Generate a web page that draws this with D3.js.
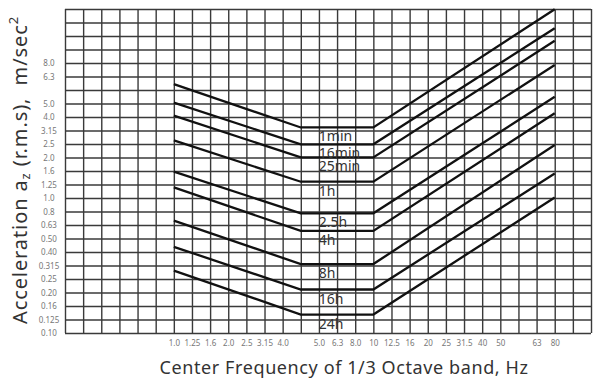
<!DOCTYPE html>
<html>
<head>
<meta charset="utf-8">
<script src="https://cdn.jsdelivr.net/npm/d3@7"></script>
<style>
  html, body { margin: 0; padding: 0; background: #fff; }
  svg { display: block; }
  .grid line { stroke: #3a3a3a; stroke-width: 1.4; }
  .tick text { fill: #777; font-family: "Noto Sans", sans-serif; font-size: 8px; }
  .title { white-space: pre; }
</style>
</head>
<body>
<svg id="chart" width="600" height="381"></svg>
<script>
// 1/3-octave band tick labels, one per vertical grid line (blank = unlabeled line)
const xTickLabels = ["", "", "", "", "", "", "1.0", "1.25", "1.6", "2.0", "2.5", "3.15", "4.0", "",
  "5.0", "6.3", "8.0", "10", "12.5", "16", "20", "25", "31.5", "40", "50", "", "63", "80", "", ""];
// acceleration tick labels, one per horizontal grid line from the bottom up
const yTickLabels = ["0.10", "0.125", "0.16", "0.20", "0.25", "0.315", "0.40", "0.50", "0.63", "0.8",
  "1.0", "1.25", "1.6", "2.0", "2.5", "3.15", "4.0", "5.0", "", "6.3", "8.0", "", "", "", ""];

// exposure durations and their boundary levels (m/s², r.m.s.)
const durations = ["1min", "16min", "25min", "1h", "2.5h", "4h", "8h", "16h", "24h"];
const startValues = [6.98, 5.08, 4.08, 2.67, 1.57, 1.20, 0.68, 0.435, 0.29];
const plateauValues = [3.33, 2.50, 2.00, 1.32, 0.77, 0.57, 0.324, 0.21, 0.137];
const endValues = [25.0, 18.1, 14.6, 9.67, 5.62, 4.24, 2.47, 1.52, 1.01];
// band index of each corner: start, plateau begins, plateau ends, end
const bendBands = [6, 13, 17, 27];

const svg = d3.select("#chart");
const plotLeft = 65, plotRight = 591, plotTop = 9, plotBottom = 333;

const x = d3.scaleLinear().domain([0, xTickLabels.length - 1]).range([plotLeft, plotRight]);
const rows = yTickLabels.length - 1;
const y = d3.scaleLog().domain([0.1, 0.1 * Math.pow(10, rows / 10)]).range([plotBottom, plotTop]);
const rowValues = d3.range(yTickLabels.length).map(k => 0.1 * Math.pow(10, k / 10));

// horizontal grid + y tick labels
const gy = svg.append("g").attr("class", "grid")
  .attr("transform", `translate(${plotLeft},0)`)
  .call(d3.axisLeft(y).tickValues(rowValues).tickSize(-(plotRight - plotLeft))
    .tickFormat((d, i) => yTickLabels[i]));
gy.select(".domain").remove();
gy.selectAll(".tick text").attr("x", -16).attr("text-anchor", "middle");

// vertical grid + x tick labels
const gx = svg.append("g").attr("class", "grid")
  .attr("transform", `translate(0,${plotBottom})`)
  .call(d3.axisBottom(x).tickValues(d3.range(xTickLabels.length)).tickSize(-(plotBottom - plotTop))
    .tickFormat(i => xTickLabels[i]));
gx.select(".domain").remove();
gx.selectAll(".tick text").attr("y", 13).attr("dy", null);

// boundary curves
const series = durations.map((name, i) => ({
  name,
  points: [
    [bendBands[0], startValues[i]],
    [bendBands[1], plateauValues[i]],
    [bendBands[2], plateauValues[i]],
    [bendBands[3], endValues[i]]
  ]
}));

const line = d3.line().x(d => x(d[0])).y(d => y(d[1]));

svg.append("g").selectAll("path").data(series).join("path")
  .attr("d", d => line(d.points))
  .attr("fill", "none")
  .attr("stroke", "#111")
  .attr("stroke-width", 2.3)
  .attr("stroke-linejoin", "miter");

svg.append("g").selectAll("text").data(series).join("text")
  .attr("x", x(bendBands[1]) + 18)
  .attr("y", d => y(d.points[1][1]) + 14)
  .attr("fill", "#333")
  .attr("font-family", "'Noto Sans', sans-serif")
  .attr("font-size", 14)
  .text(d => d.name);

// axis titles
svg.append("text")
  .attr("class", "title")
  .attr("x", 344).attr("y", 374)
  .attr("text-anchor", "middle")
  .attr("fill", "#333")
  .attr("font-family", "'Noto Sans', sans-serif")
  .attr("font-size", 18)
  .attr("letter-spacing", 0.6)
  .text("Center Frequency of 1/3 Octave band, Hz");

const yt = svg.append("text")
  .attr("class", "title")
  .attr("transform", "translate(27,170) rotate(-90)")
  .attr("text-anchor", "middle")
  .attr("fill", "#333")
  .attr("font-family", "'Noto Sans', sans-serif")
  .attr("font-size", 20)
  .attr("letter-spacing", 0.9);
yt.append("tspan").text("Acceleration a");
yt.append("tspan").attr("font-size", 13).attr("dy", 3).text("z");
yt.append("tspan").attr("dy", -3).text(" (r.m.s),  m/sec");
yt.append("tspan").attr("font-size", 13).attr("dy", -9).text("2");
</script>
</body>
</html>
